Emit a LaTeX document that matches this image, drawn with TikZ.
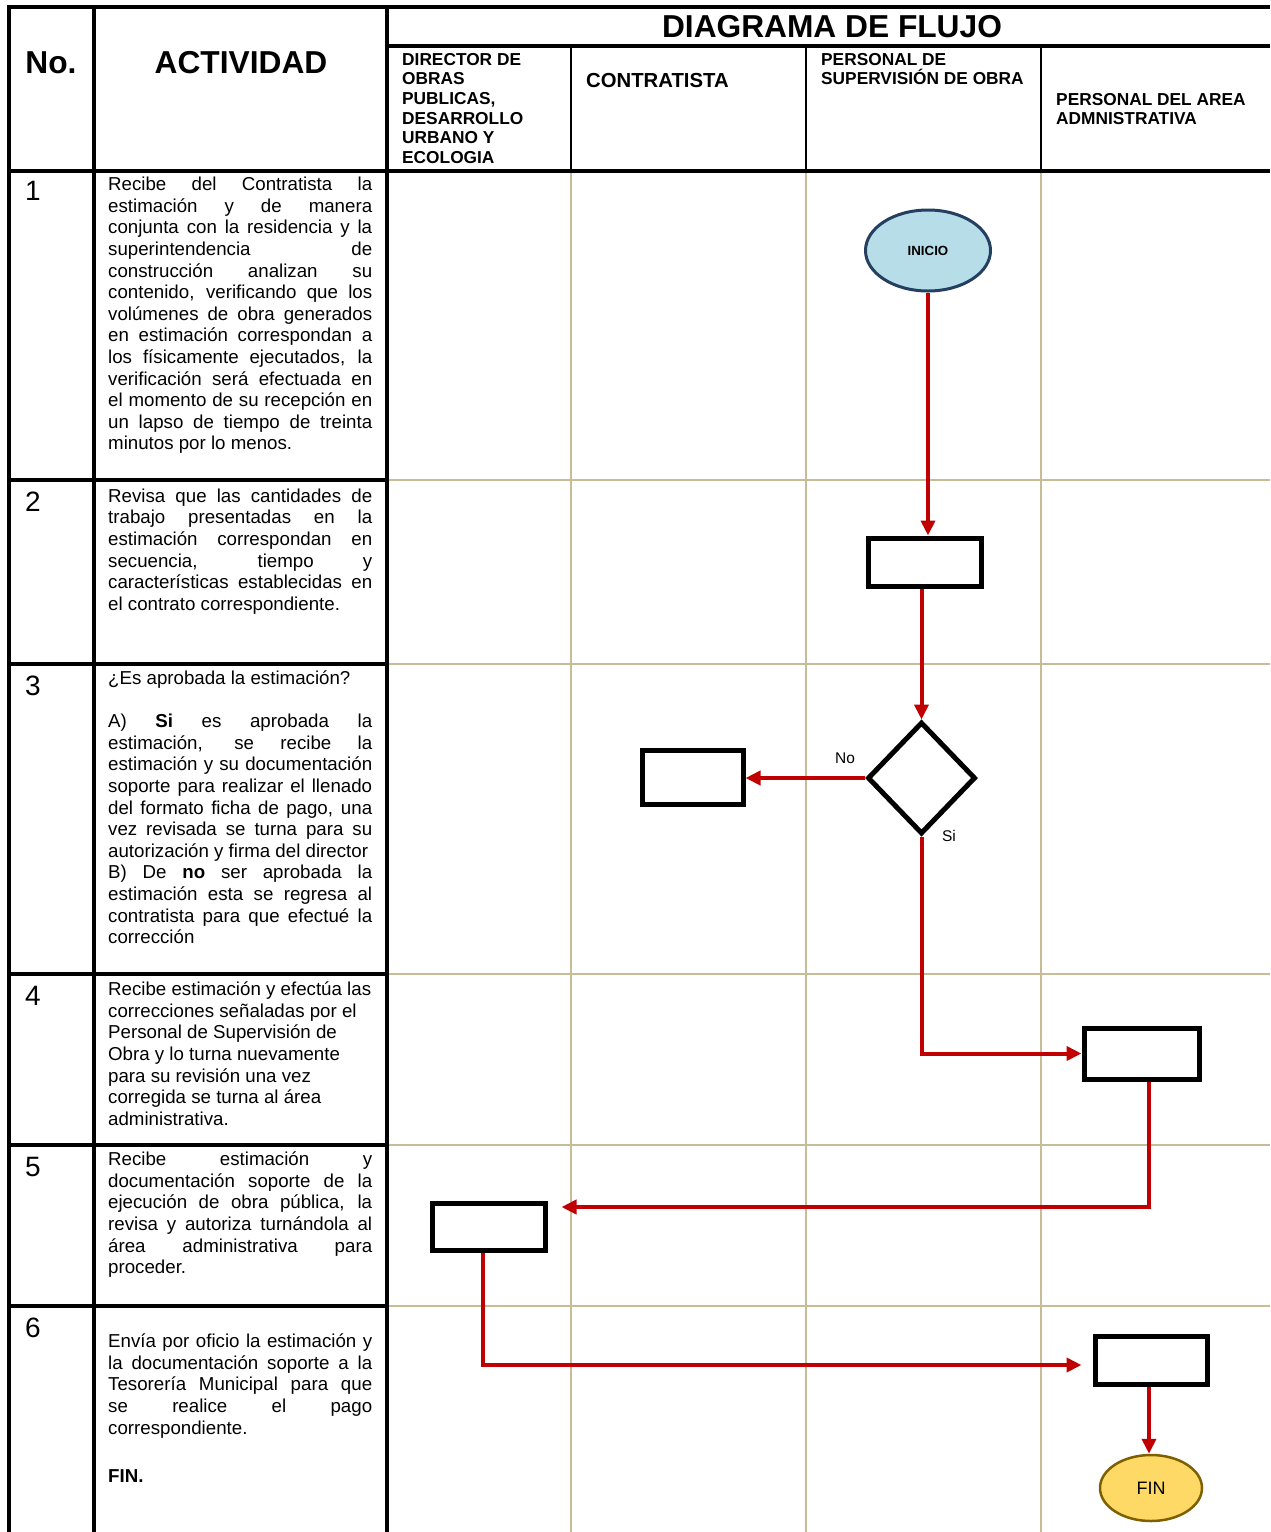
\documentclass[tikz,border=0pt]{standalone}
\usepackage{fontspec}
\setmainfont{Liberation Sans}
\usetikzlibrary{shapes.geometric,arrows.meta}
\definecolor{flowred}{HTML}{C00000}
\definecolor{lanetan}{HTML}{C8BC96}
\definecolor{inifill}{HTML}{B7DEE8}
\definecolor{inidraw}{HTML}{243F60}
\definecolor{finfill}{HTML}{FFD966}
\definecolor{findraw}{HTML}{7F6000}
\newcommand{\bodyfont}{\fontsize{18.7}{21.6}\selectfont}
\newcommand{\headfont}{\fontsize{17.3}{19.6}\selectfont\bfseries}
\newcommand{\bigfont}{\fontsize{31.7}{36}\selectfont\bfseries}
\hfuzz=8pt
\hbadness=10000
\begin{document}
\begin{tikzpicture}[x=1pt,y=-1pt,
  gridline/.style={line width=4.5pt},
  thinline/.style={line width=2.2pt},
  laneline/.style={draw=lanetan,line width=2pt},
  txt/.style={inner sep=0pt,anchor=base west},
  num/.style={inner sep=0pt,font=\fontsize{28}{30}\selectfont},
  big/.style={inner sep=0pt,font=\bigfont},
  box/.style={draw,line width=5pt,rectangle,inner sep=0pt},
  flow/.style={draw=flowred,line width=4pt,-{Triangle[length=15pt,width=14pt]}},
  lbl/.style={inner sep=0pt,font=\fontsize{15.5}{18}\selectfont}]
\useasboundingbox (0,0) rectangle (1270,1532);
\fill[white] (0,0) rectangle (1270,1532);
% lanes
\foreach \x in {571,806,1041} \draw[laneline] (\x,171) -- (\x,1532);
\foreach \y in {480,664,974,1145,1306} \draw[laneline] (387,\y) -- (1270,\y);
% table
\draw[gridline] (7,7) -- (1270,7);
\draw[gridline] (9,5) -- (9,1532);
\draw[gridline] (94,7) -- (94,1532);
\draw[gridline] (387,7) -- (387,1532);
\draw[gridline] (387,46) -- (1270,46);
\draw[gridline] (7,171) -- (1270,171);
\foreach \y in {480,664,974,1145,1306} \draw[gridline] (9,\y) -- (387,\y);
\foreach \x in {571,806,1041} \draw[thinline] (\x,46) -- (\x,171);
% headers
\node[big] (hno) at (51,63) {No.};
\node[big] (hact) at (241,63) {ACTIVIDAD};
\node[big] (hdf) at (832,27) {DIAGRAMA DE FLUJO};
\node[txt] (lane1) at (402,65.2) {\begin{minipage}[t]{165pt}\headfont DIRECTOR DE\\OBRAS\\PUBLICAS,\\DESARROLLO\\URBANO Y\\ECOLOGIA\end{minipage}};
\node[txt] (lane2) at (586,87.3) {\begin{minipage}[t]{210pt}\fontsize{20.3}{23}\selectfont\bfseries CONTRATISTA\end{minipage}};
\node[txt] (lane3) at (821,65.2) {\begin{minipage}[t]{215pt}\headfont PERSONAL DE\\SUPERVISIÓN DE OBRA\end{minipage}};
\node[txt] (lane4) at (1056,105.2) {\begin{minipage}[t]{210pt}\headfont PERSONAL DEL AREA\\ADMNISTRATIVA\end{minipage}};
% row numbers
\node[num] (n1) at (33,191) {1};
\node[num] (n2) at (33,502) {2};
\node[num] (n3) at (33,686) {3};
\node[num] (n4) at (33,996) {4};
\node[num] (n5) at (33,1167) {5};
\node[num] (n6) at (33,1328) {6};
% activity texts
\node[txt] (a1) at (108,190.6) {\begin{minipage}[t]{264pt}\bodyfont
Recibe del Contratista la\linebreak estimación y de manera\linebreak conjunta con la residencia y la\linebreak superintendencia de\linebreak construcción analizan su\linebreak contenido, verificando que los\linebreak volúmenes de obra generados\linebreak en estimación correspondan a\linebreak los físicamente ejecutados, la\linebreak verificación será efectuada en\linebreak el momento de su recepción en\linebreak un lapso de tiempo de treinta\linebreak minutos por lo menos.\end{minipage}};
\node[txt] (a2) at (108,502.3) {\begin{minipage}[t]{264pt}\bodyfont
Revisa que las cantidades de\linebreak trabajo presentadas en la\linebreak estimación correspondan en\linebreak secuencia, tiempo y\linebreak características establecidas en\linebreak el contrato correspondiente.\end{minipage}};
\node[txt] (a3) at (108,684.4) {\begin{minipage}[t]{264pt}\bodyfont
¿Es aprobada la estimación?\par\mbox{}\par
A) \textbf{Si} es aprobada la\linebreak estimación, se recibe la\linebreak estimación y su documentación\linebreak soporte para realizar el llenado\linebreak del formato ficha de pago, una\linebreak vez revisada se turna para su\linebreak autorización y firma del director\par
B) De \textbf{no} ser aprobada la\linebreak estimación esta se regresa al\linebreak contratista para que efectué la\linebreak corrección\end{minipage}};
\node[txt] (a4) at (108,995.6) {\begin{minipage}[t]{264pt}\bodyfont\raggedright
Recibe estimación y efectúa las\\correcciones señaladas por el\\Personal de Supervisión de\\Obra y lo turna nuevamente\\para su revisión una vez\\corregida se turna al área\\administrativa.\end{minipage}};
\node[txt] (a5) at (108,1165.6) {\begin{minipage}[t]{264pt}\bodyfont
Recibe estimación y\linebreak documentación soporte de la\linebreak ejecución de obra pública, la\linebreak revisa y autoriza turnándola al\linebreak área administrativa para\linebreak proceder.\end{minipage}};
\node[txt] (a6) at (108,1347.6) {\begin{minipage}[t]{264pt}\bodyfont
Envía por oficio la estimación y\linebreak la documentación soporte a la\linebreak Tesorería Municipal para que\linebreak se realice el pago\linebreak correspondiente.\par\vspace{27pt}
\textbf{FIN.}\end{minipage}};
% flow shapes
\node[ellipse,draw=inidraw,fill=inifill,line width=3pt,minimum width=125pt,minimum height=81pt,inner sep=0pt,font=\fontsize{13.3}{15}\selectfont\bfseries] (inicio) at (928,250.5) {INICIO};
\node[box,minimum width=113pt,minimum height=48pt] (r1) at (924.5,562) {};
\node[diamond,draw,line width=5pt,minimum width=108pt,minimum height=112pt,inner sep=0pt] (dia) at (921.5,778) {};
\node[box,minimum width=101pt,minimum height=54pt] (r2) at (692.5,777) {};
\node[box,minimum width=115pt,minimum height=51pt] (r3) at (1141.5,1053.5) {};
\node[box,minimum width=113pt,minimum height=47pt] (r4) at (488.5,1226.5) {};
\node[box,minimum width=112pt,minimum height=48pt] (r5) at (1151,1360) {};
\node[ellipse,draw=findraw,fill=finfill,line width=2.5pt,minimum width=102pt,minimum height=66pt,inner sep=0pt,font=\fontsize{18}{20}\selectfont] (fin) at (1151,1488) {FIN};
% labels
\node[lbl] (lno) at (845,758) {No};
\node[lbl] (lsi) at (949,836) {Si};
% connectors
\draw[flow] (inicio.south) -- (inicio.south |- r1.north);
\draw[flow] (r1.south -| dia.north) -- (dia.north);
\draw[flow] (dia.west) -- (dia.west -| r2.east);
\draw[flow] (dia.south) |- (r3.west);
\draw[flow,shorten >=14pt] ([xshift=7.5pt]r3.south) |- ([yshift=19.5pt]r4.east);
\draw[flow,shorten >=11pt] ([xshift=-5.5pt]r4.south) |- ([yshift=-5pt]r5.west);
\draw[flow] ([xshift=-2pt]r5.south) -- ([xshift=-2pt]fin.north);
\end{tikzpicture}
\end{document}
